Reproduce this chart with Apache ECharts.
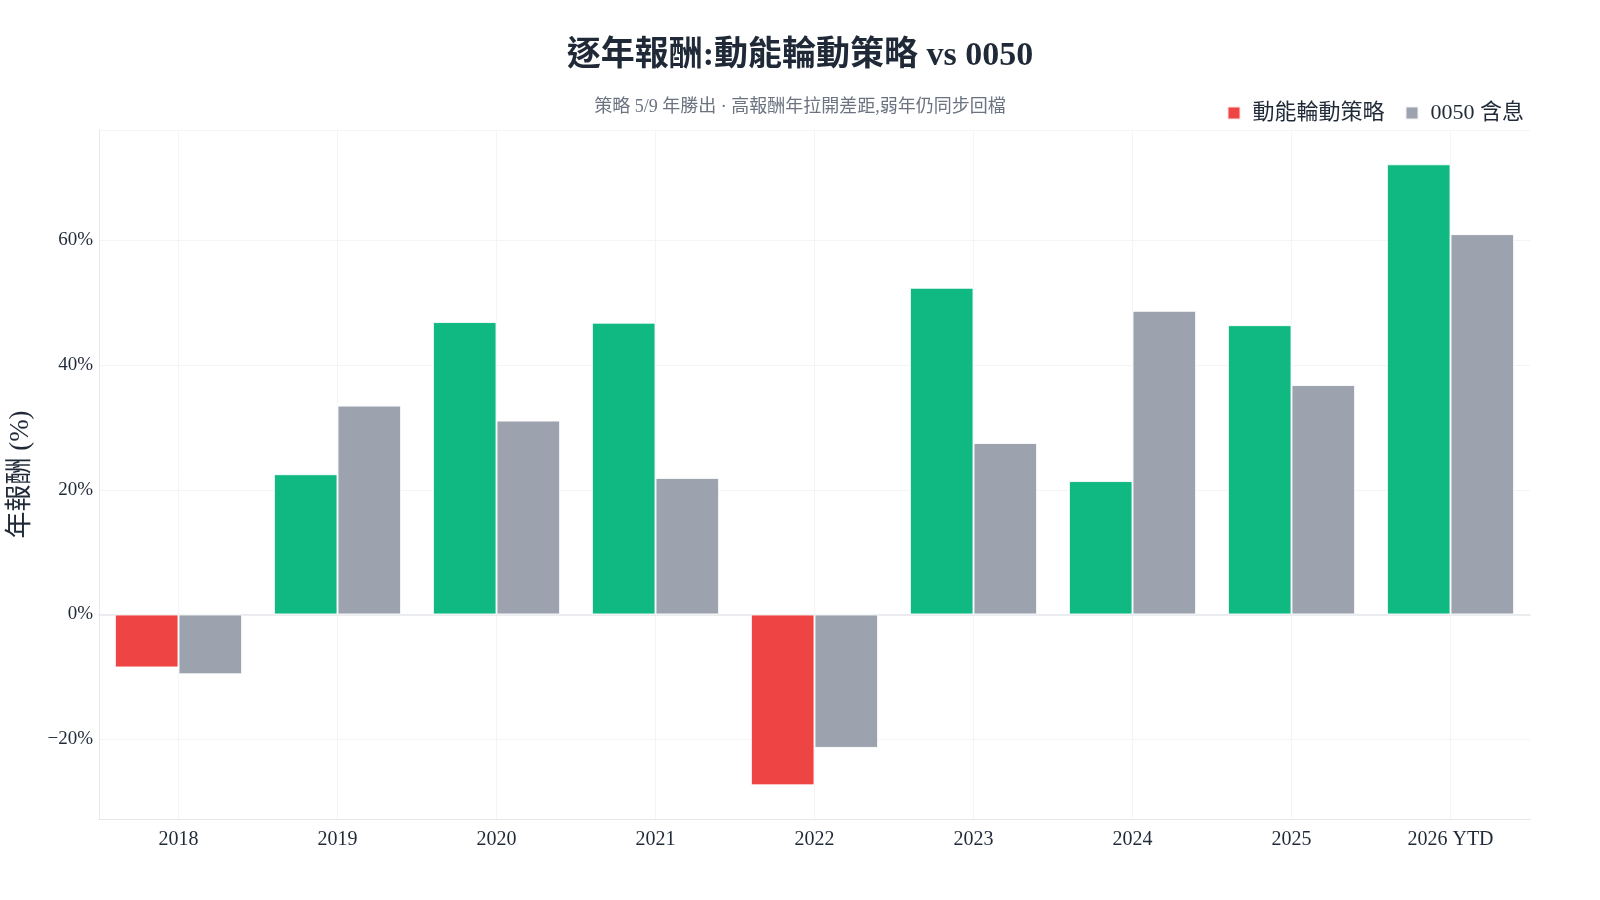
<!DOCTYPE html>
<html>
<head>
<meta charset="utf-8">
<title>逐年報酬</title>
<script src="https://cdn.jsdelivr.net/npm/echarts@6/dist/echarts.min.js"></script>
<style>
  html, body { margin: 0; padding: 0; background: #fff; }
  #main { width: 1600px; height: 900px; }
</style>
</head>
<body>
<div id="main"></div>
<script>
// 年度
var years = ['2018', '2019', '2020', '2021', '2022', '2023', '2024', '2025', '2026 YTD'];
// 動能輪動策略 年報酬 (%)
var strategyRet = [-8.5, 22.5, 46.9, 46.8, -27.4, 52.4, 21.4, 46.4, 72.2];
// 0050 含息 年報酬 (%)
var etfRet = [-9.6, 33.5, 31.1, 21.9, -21.4, 27.5, 48.7, 36.8, 61.0];

var fontFamily = "'Liberation Serif', 'DejaVu Serif', 'Noto Sans CJK TC', serif";
var upColor = '#10b981';
var downColor = '#ef4444';
var grayColor = '#9ca3af';

// 格線用的隱藏類別軸 (線落在類別中心)
var halfSteps = [];
for (var i = 0; i < years.length * 2 + 1; i++) halfSteps.push('');

function initChart() {
    var myChart = echarts.init(document.getElementById('main'));

    var strategyData = strategyRet.map(function (v) {
        return { value: v, itemStyle: { color: v < 0 ? downColor : upColor } };
    });

    var option = {
        backgroundColor: '#ffffff',
        textStyle: { fontFamily: fontFamily },
        title: [{
            text: '逐年報酬:動能輪動策略 vs 0050',
            left: 'center',
            top: 34,
            textStyle: { fontSize: 34, fontWeight: 'bold', color: '#1f2937', fontFamily: fontFamily }
        }, {
            text: '策略 5/9 年勝出 · 高報酬年拉開差距,弱年仍同步回檔',
            left: 'center',
            top: 93,
            textStyle: { fontSize: 18, fontWeight: 'normal', color: '#6b7280', fontFamily: fontFamily }
        }],
        legend: {
            data: ['動能輪動策略', '0050 含息'],
            right: 71,
            top: 97,
            icon: 'rect',
            itemWidth: 13,
            itemHeight: 13,
            itemGap: 20,
            textStyle: { fontSize: 22, color: '#1f2937', fontFamily: fontFamily, padding: [0, 0, 0, 7] }
        },
        grid: {
            left: 99,
            right: 70,
            top: 130,
            bottom: 81,
            outerBoundsMode: 'none'
        },
        xAxis: [{
            type: 'category',
            data: years,
            axisLine: { onZero: false, lineStyle: { color: '#e5e7eb', width: 1 } },
            axisTick: { show: false },
            splitLine: { show: false },
            axisLabel: { fontSize: 20, color: '#1f2937', margin: 11, fontFamily: fontFamily }
        }, {
            type: 'category',
            data: halfSteps,
            boundaryGap: false,
            position: 'bottom',
            axisLine: { show: true, onZero: true, lineStyle: { color: '#e5e7eb', width: 1.5 } },
            axisTick: { show: false },
            axisLabel: { show: false },
            splitLine: {
                show: true,
                interval: function (idx) { return idx % 2 === 1; },
                lineStyle: { color: '#f3f4f6', width: 1 }
            }
        }],
        yAxis: [{
            type: 'value',
            min: -32.8,
            max: 77.7,
            splitNumber: 5,
            name: '年報酬 (%)',
            nameLocation: 'middle',
            nameGap: 65,
            nameTextStyle: { fontSize: 27, color: '#1f2937', fontFamily: fontFamily },
            axisLine: { show: true, lineStyle: { color: '#e5e7eb' } },
            axisTick: { show: false },
            splitLine: { lineStyle: { color: '#f3f4f6' } },
            axisLabel: {
                fontSize: 19,
                color: '#1f2937',
                margin: 6,
                showMinLabel: false,
                showMaxLabel: false,
                fontFamily: fontFamily,
                formatter: function (v) {
                    if (Math.abs(v % 20) > 1e-6) return '';
                    return (v < 0 ? '\u2212' + Math.abs(v) : v) + '%';
                }
            }
        }],
        series: [{
            name: '動能輪動策略',
            type: 'bar',
            xAxisIndex: 0,
            data: strategyData,
            itemStyle: { color: downColor, borderColor: 'rgba(255,255,255,0.85)', borderWidth: 1 },
            barGap: '0%',
            barCategoryGap: '20%'
        }, {
            name: '0050 含息',
            type: 'bar',
            xAxisIndex: 0,
            data: etfRet,
            itemStyle: { color: grayColor, borderColor: 'rgba(255,255,255,0.85)', borderWidth: 1 },
            barGap: '0%',
            barCategoryGap: '20%'
        }]
    };

    myChart.setOption(option);
}

initChart();
</script>
</body>
</html>
